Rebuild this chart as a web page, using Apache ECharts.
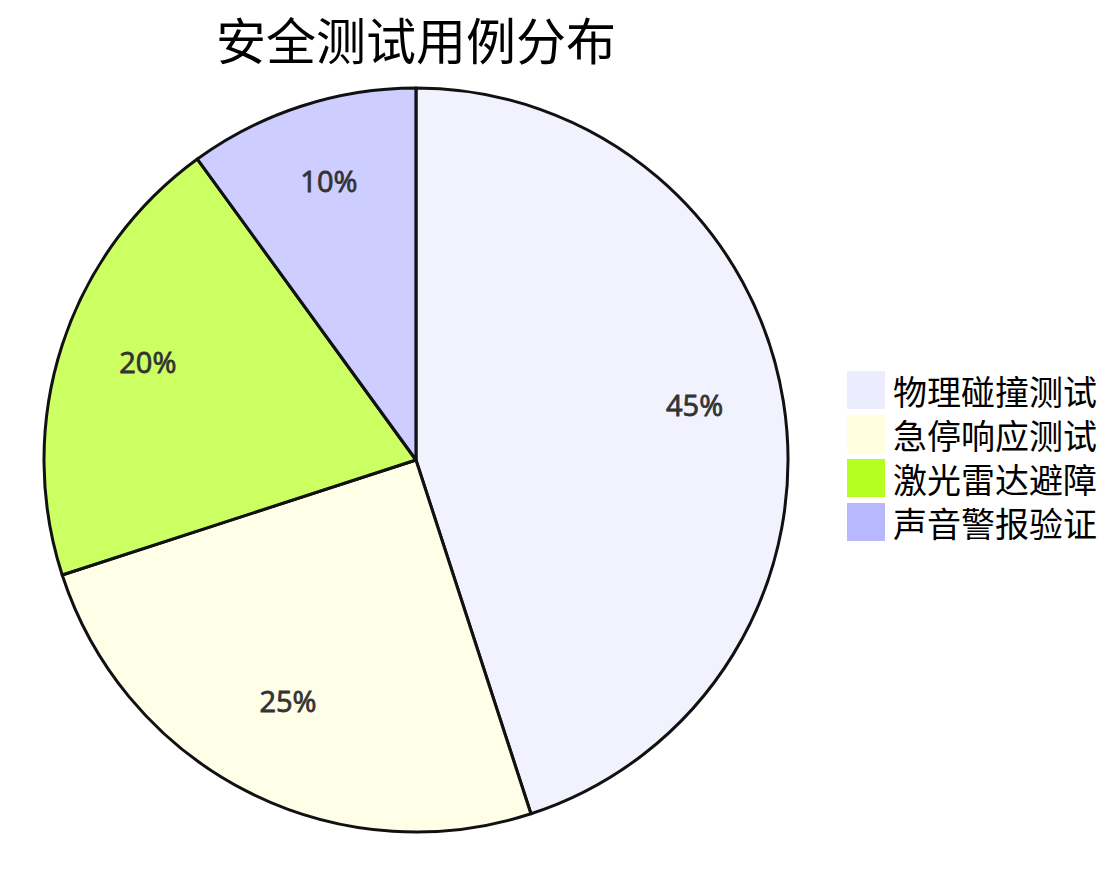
<!DOCTYPE html>
<html>
<head>
<meta charset="utf-8">
<script src="https://cdn.jsdelivr.net/npm/echarts@6/dist/echarts.min.js"></script>
<style>
  html, body { margin: 0; padding: 0; background: #fff; }
  #chart { width: 1112px; height: 872px; }
</style>
</head>
<body>
<div id="chart"></div>
<script>
// Chart data
const chartTitle = '安全测试用例分布';
const categories = ['物理碰撞测试', '急停响应测试', '激光雷达避障', '声音警报验证'];
const values     = [45, 25, 20, 10];
const sliceColors = ['#ECECFF', '#FFFFDE', '#B5FF20', '#B8B8FF'];

const CJK = '"Noto Sans CJK SC", "Noto Sans", sans-serif';
const CENTER = [416, 460];
const RADIUS = 372;
const FILL_ALPHA = 0.7;

// slices are drawn translucent, legend swatches solid; keep the border opaque
function withAlpha(hex, a) {
  const n = parseInt(hex.slice(1), 16);
  return `rgba(${(n >> 16) & 255},${(n >> 8) & 255},${n & 255},${a})`;
}

const chart = echarts.init(document.getElementById('chart'), null, { renderer: 'svg' });

const pieData = categories.map((name, i) => ({
  name,
  value: values[i],
  itemStyle: { color: withAlpha(sliceColors[i], FILL_ALPHA) },
}));

chart.setOption({
  animation: false,
  backgroundColor: '#fff',
  title: {
    text: chartTitle,
    left: 411,
    top: 8,
    textAlign: 'center',
    textStyle: { fontFamily: CJK, fontSize: 50, fontWeight: 'normal', color: '#000' },
  },
  legend: {
    orient: 'vertical',
    left: 847,
    top: 371,
    padding: 0,
    itemWidth: 38,
    itemHeight: 38,
    itemGap: 6,
    icon: 'rect',
    selectedMode: false,
    itemStyle: { borderWidth: 0 },
    textStyle: { fontFamily: CJK, fontSize: 34, lineHeight: 38, height: 38, color: '#000', padding: [0, 0, 0, 3] },
    data: categories.map((name, i) => ({ name, itemStyle: { color: sliceColors[i] } })),
  },
  series: [
    {
      // slices
      type: 'pie',
      center: CENTER,
      radius: [0, RADIUS],
      startAngle: 90,
      clockwise: true,
      silent: true,
      label: { show: false },
      labelLine: { show: false },
      itemStyle: { borderColor: '#111', borderWidth: 3 },
      data: pieData,
    },
    {
      // labels only, baseline at 3/4 of the radius
      type: 'pie',
      center: CENTER,
      radius: [RADIUS / 2, RADIUS],
      startAngle: 90,
      clockwise: true,
      silent: true,
      legendHoverLink: false,
      itemStyle: { color: 'rgba(0,0,0,0)', borderWidth: 0 },
      label: {
        show: true,
        position: 'inside',
        formatter: '{d}%',
        fontFamily: '"Open Sans", sans-serif',
        fontSize: 29,
        color: '#333',
        textBorderColor: '#333',
        textBorderWidth: 0.8,
        offset: [0, -11],
      },
      labelLine: { show: false },
      data: categories.map((name, i) => ({ name: name + ' ', value: values[i] })),
    },
  ],
});
</script>
</body>
</html>
